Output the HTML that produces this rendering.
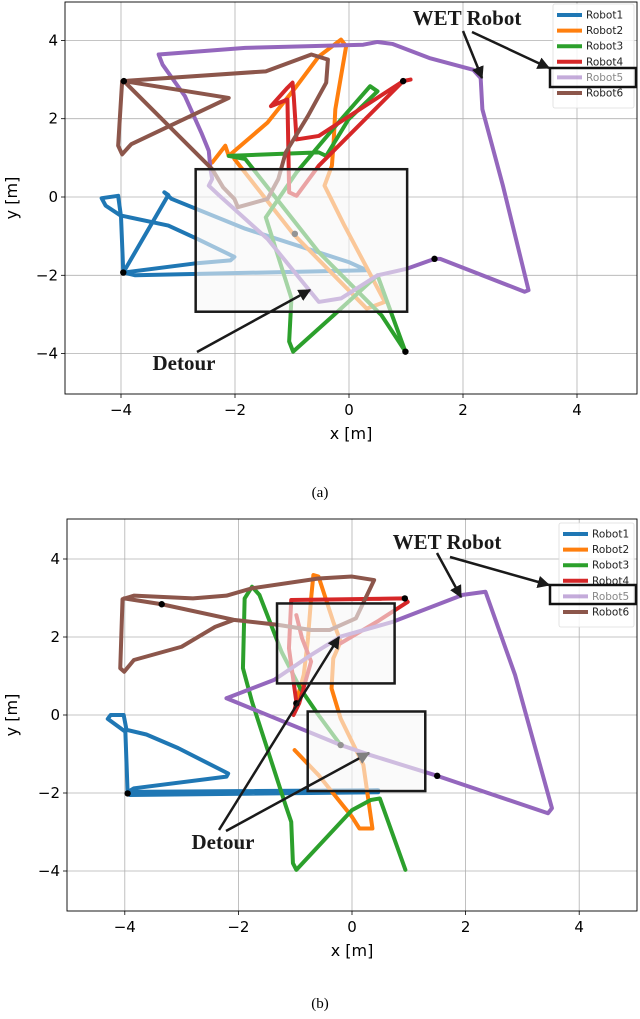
<!DOCTYPE html>
<html><head><meta charset="utf-8"><style>
body{margin:0;background:#fff;}
svg{display:block;font-family:"DejaVu Sans","Liberation Sans",sans-serif;}
</style></head><body>
<svg id="fig" width="640" height="1019" viewBox="0 0 640 1019" xmlns="http://www.w3.org/2000/svg">
<defs>
<marker id="ah" viewBox="0 0 10 10" refX="9" refY="5" markerWidth="5" markerHeight="5" orient="auto"><path d="M0,0L10,5L0,10z" fill="#1a1a1a"/></marker>
<marker id="ahg" viewBox="0 0 10 10" refX="9" refY="5" markerWidth="5" markerHeight="5" orient="auto"><path d="M0,0L10,5L0,10z" fill="#808080"/></marker>
</defs>
<g id="chartA"></g>
<g id="chartB"></g>
<text x="320" y="497" text-anchor="middle" font-family="Liberation Serif,serif" font-size="15">(a)</text>
<text x="320" y="1008" text-anchor="middle" font-family="Liberation Serif,serif" font-size="15">(b)</text>
</svg>
<script>
const ticks = [-4,-2,0,2,4];
const tickLabels = ['\u22124','\u22122','0','2','4'];
const robotNames = ['Robot1','Robot2','Robot3','Robot4','Robot5','Robot6'];
const colors = ['#1f77b4','#ff7f0e','#2ca02c','#d62728','#9467bd','#8c564b'];

// Chart (a) trajectories [x,y] in metres
const a_r1 = [[-3.96,-1.93],[-4.0,-0.5],[-4.05,0.03],[-4.34,-0.03],[-4.27,-0.22],[-4.01,-0.47],[-3.17,-0.73],[-2.66,-1.07],[-2.01,-1.53],[-2.08,-1.62],[-2.72,-1.70],[-3.95,-1.93],[-3.75,-2.0],[0.31,-1.87],[-0.01,-1.66],[-1.82,-0.81],[-3.11,-0.05],[-3.24,0.12],[-3.17,0.05],[-3.96,-1.93]];
const a_r2 = [[-2.4,0.88],[-2.17,1.31],[-2.11,1.05],[-1.43,1.9],[-0.92,2.83],[-0.53,3.59],[-0.14,4.02],[-0.05,3.85],[-0.24,2.24],[-0.27,1.39],[-0.3,0.8],[-0.43,0.29],[-0.34,0.03],[-0.08,-0.73],[0.63,-2.68],[0.31,-2.85],[-0.98,-0.94],[-2.01,0.97]];
const a_r3 = [[0.99,-3.95],[0.5,-2.0],[-0.27,-3.02],[-0.98,-3.95],[-1.05,-3.69],[-1.01,-2.59],[-1.46,-0.52],[-0.92,0.63],[-0.14,1.98],[0.37,2.83],[0.5,2.7],[-0.01,1.98],[-0.4,1.05],[-0.53,1.14],[-2.11,1.05],[-1.82,0.97],[-0.53,-1.41],[0.57,-3.02],[0.99,-3.95]];
const a_r4 = [[1.08,3.0],[0.95,2.96],[-0.53,0.8],[-0.92,0.03],[-1.05,0.12],[-1.08,2.49],[-1.37,2.32],[-1.08,2.79],[-0.99,2.92],[-0.97,2.58],[-0.92,1.47],[-0.53,1.56],[0.95,2.96]];
const a_r5 = [[1.5,-1.58],[1.6,-1.58],[3.08,-2.42],[3.15,-2.38],[2.7,0.29],[2.34,2.24],[2.31,3.04],[2.18,3.25],[1.41,3.55],[0.76,3.91],[0.5,3.96],[0.25,3.89],[-1.82,3.81],[-3.34,3.64],[-3.27,3.38],[-2.88,2.58],[-2.59,1.64],[-2.46,1.18],[-2.43,0.71],[-2.4,0.46],[-2.46,0.29],[-2.27,0.03],[-1.43,-1.07],[-0.53,-2.68],[-0.14,-2.59],[0.5,-2.0],[1.02,-1.83],[1.5,-1.58]];
const a_r6 = [[-3.95,2.96],[-2.11,2.53],[-3.82,1.35],[-3.98,1.09],[-4.05,1.31],[-3.98,2.96],[-1.46,3.21],[-0.66,3.64],[-0.37,3.51],[-0.4,2.92],[-0.72,2.07],[-1.11,1.14],[-1.24,0.46],[-1.43,-0.05],[-1.95,-0.26],[-2.01,-0.05],[-2.21,0.25],[-2.4,0.71],[-3.95,2.96]];
const a_starts = [[-3.96,-1.93],[0.99,-3.95],[0.95,2.96],[1.5,-1.58],[-3.95,2.96]];
const a_grayDots = [[-0.95,-0.94]];
const a_boxes = [[-2.69,0.71,1.02,-2.93]];

// Chart (b) trajectories
const b_r1 = [[-3.95,-2.01],[-3.99,-0.43],[-4.3,-0.1],[-4.25,0],[-4.02,0],[-3.97,-0.38],[-3.62,-0.5],[-3.06,-0.85],[-2.18,-1.5],[-2.21,-1.58],[-3.84,-1.88],[-3.94,-1.97],[0.46,-1.93],[-3.91,-2.05],[0.46,-1.98],[-3.9,-2.0]];
const b_r2 = [[-1.01,-0.9],[-0.59,-1.54],[0,-2.61],[0.13,-2.91],[0.36,-2.91],[0.2,-1.28],[-0.2,-0.09],[-0.36,0.68],[-0.33,1.45],[-0.2,1.88],[-0.33,2.39],[-0.59,3.55],[-0.68,3.59],[-0.72,2.99],[-0.78,1.88],[-0.85,1.03],[-0.98,0.34]];
const b_r3 = [[-0.2,-0.77],[-0.59,0],[-0.91,0.68],[-1.24,1.62],[-1.63,3.08],[-1.76,3.29],[-1.89,2.99],[-1.92,1.2],[-1.76,0.34],[-1.17,-2.31],[-1.07,-2.74],[-1.04,-3.8],[-0.98,-3.97],[0,-2.44],[0.33,-2.18],[0.49,-2.14],[0.94,-3.97]];
const b_r4 = [[-0.98,2.56],[-0.88,1.97],[-0.72,1.37],[-0.93,0.3],[-1.03,0],[-0.98,0.34],[-1.11,1.71],[-1.07,2.95],[0.93,2.99],[0.98,2.9],[0.45,2.4],[-0.2,1.84]];
const b_r5 = [[-2.21,0.43],[-1.37,0.9],[-0.72,1.54],[-0.2,2.01],[0.72,2.39],[1.95,3.08],[2.35,3.16],[2.87,1.03],[3.52,-2.39],[3.45,-2.52],[1.5,-1.56],[0.33,-1.03],[-0.2,-0.77],[-2.21,0.43]];
const b_r6 = [[-4.01,1.11],[-4.08,1.2],[-4.04,2.97],[-3.84,3.06],[-2.8,2.99],[-2.21,3.06],[-1.76,3.25],[-0.59,3.5],[0,3.55],[0.39,3.46],[0.07,2.48],[-0.39,2.18],[-0.72,2.18],[-1.3,2.31],[-2.08,2.44],[-3.35,2.84],[-4.01,2.99],[-3.35,2.84],[-2.08,2.44],[-2.41,2.26],[-3.0,1.75],[-3.84,1.41],[-4.01,1.11]];
const b_starts = [[-3.95,-2.01],[0.93,2.99],[1.5,-1.56],[-3.35,2.84]];
const b_grayDots = [[-0.2,-0.77],[-0.98,0.3]];
const b_boxes = [[-1.32,2.86,0.75,0.81],[-0.78,0.09,1.29,-1.95]];

const NS='http://www.w3.org/2000/svg';
function mk(parent,tag,attrs){const e=document.createElementNS(NS,tag);for(const k in attrs)e.setAttribute(k,attrs[k]);parent.appendChild(e);return e;}

function drawChart(g, cfg, series, starts, grayDots, boxes){
  const sx = x => cfg.x0 + x*cfg.kx;
  const sy = y => cfg.y0 - y*cfg.ky;
  const L=cfg.left,R=cfg.right,T=cfg.top,B=cfg.bottom;
  const bg=mk(g,'rect',{x:L,y:T,width:R-L,height:B-T,fill:'#fff'});
  
  
  ticks.forEach((t,i)=>{
    const gx=mk(g,'line',{x1:sx(t),x2:sx(t),y1:T,y2:B,stroke:'#b0b0b0','stroke-width':0.8});
    
    
    const gy=mk(g,'line',{x1:L,x2:R,y1:sy(t),y2:sy(t),stroke:'#b0b0b0','stroke-width':0.8});
    
    
    mk(g,'line',{x1:sx(t),x2:sx(t),y1:B,y2:B+4,stroke:'#000','stroke-width':0.8});
    mk(g,'line',{x1:L-4,x2:L,y1:sy(t),y2:sy(t),stroke:'#000','stroke-width':0.8});
    const xl=mk(g,'text',{x:sx(t),y:B+21,'text-anchor':'middle','font-size':15});
    xl.textContent=tickLabels[i];
    
    
    const yl=mk(g,'text',{x:L-7,y:sy(t)+5,'text-anchor':'end','font-size':15});
    yl.textContent=tickLabels[i];
    
    
  });
  series.forEach((pts,i)=>{
    const p=mk(g,'polyline',{points:pts.map(q=>sx(q[0])+','+sy(q[1])).join(' '),fill:'none',stroke:colors[i],'stroke-width':4,'stroke-linejoin':'round','stroke-linecap':'round'});
    
    
  });
  grayDots.forEach(d=>{
    const c=mk(g,'circle',{cx:sx(d[0]),cy:sy(d[1]),r:3.2,fill:'#000'});
    
    
  });
  boxes.forEach(b=>{
    const r=mk(g,'rect',{x:sx(b[0]),y:sy(b[1]),width:sx(b[2])-sx(b[0]),height:sy(b[3])-sy(b[1]),fill:'rgba(247,247,247,0.6)',stroke:'#1a1a1a','stroke-width':2.5});
    
    
  });
  starts.forEach(d=>{
    const c=mk(g,'circle',{cx:sx(d[0]),cy:sy(d[1]),r:3.2,fill:'#000'});
    
    
  });
  const fr=mk(g,'rect',{x:L,y:T,width:R-L,height:B-T,fill:'none',stroke:'#000','stroke-width':0.9});
  
  
  const xt=mk(g,'text',{x:(L+R)/2,y:B+45,'text-anchor':'middle','font-size':16});
  xt.textContent='x [m]';
  
  
  const yt=mk(g,'text',{x:17,y:(T+B)/2,'text-anchor':'middle','font-size':16,transform:'rotate(-90 17 '+(T+B)/2+')'});
  yt.textContent='y [m]';
  
  
  const lg=mk(g,'g',{});
  
  
  mk(lg,'rect',{x:cfg.legX,y:cfg.legY,width:R-3-cfg.legX,height:104,fill:'rgba(255,255,255,0.85)',stroke:'#ddd','stroke-width':0.8,rx:2});
  robotNames.forEach((n,i)=>{
    const yy=cfg.legY+11+i*15.6;
    const e=mk(lg,'g',{});
    
    
    mk(e,'line',{x1:cfg.legX+4,x2:cfg.legX+29,y1:yy,y2:yy,stroke:colors[i],'stroke-width':4,opacity:i===4?0.55:1});
    const t=mk(e,'text',{x:cfg.legX+33,y:yy+3.5,'font-size':10.5,fill:i===4?'#888':'#222'});
    t.textContent=n;
  });
  const hb=mk(g,'rect',{x:cfg.hx,y:cfg.hy,width:R-cfg.hx-1,height:19,fill:'none',stroke:'#111','stroke-width':2.5});
  
  
  const wt=mk(g,'text',{x:cfg.wx,y:cfg.wy,'text-anchor':'middle','font-size':21,'font-weight':'bold','font-family':'Liberation Serif,serif',fill:'#1a1a1a'});
  wt.textContent='WET Robot';
  
  
  cfg.warrows.forEach(a=>{
    const l=mk(g,'line',{x1:a[0],y1:a[1],x2:a[2],y2:a[3],stroke:'#1a1a1a','stroke-width':2.5,'marker-end':'url(#ah)'});
    
    
  });
  const dt=mk(g,'text',{x:cfg.dx,y:cfg.dy,'text-anchor':'middle','font-size':21,'font-weight':'bold','font-family':'Liberation Serif,serif',fill:'#1a1a1a'});
  dt.textContent='Detour';
  
  
  cfg.darrows.forEach(a=>{
    const l=mk(g,'line',{x1:a[0],y1:a[1],x2:a[2],y2:a[3],stroke:'#1a1a1a','stroke-width':2.5,'marker-end':a[4]?'url(#ahg)':'url(#ah)'});
    
    
  });
}

drawChart(document.getElementById('chartA'),
 {x0:349,kx:57,y0:197,ky:39.15,left:65,right:637,top:2,bottom:394,legX:553,legY:4,hx:550,hy:68,
  wx:467,wy:25,warrows:[[463,31,482,78],[472,32,549,68]],dx:184,dy:370,darrows:[[197,352,310,290]]},
 [a_r1,a_r2,a_r3,a_r4,a_r5,a_r6],a_starts,a_grayDots,a_boxes);

drawChart(document.getElementById('chartB'),
 {x0:352,kx:56.8,y0:715,ky:39,left:67,right:637,top:519,bottom:911,legX:559,legY:523,hx:550,hy:585,
  wx:447,wy:549,warrows:[[437,553,461,597],[450,557,549,585]],dx:223,dy:849,darrows:[[219,830,339,637],[226,831,369,753,1]]},
 [b_r1,b_r2,b_r3,b_r4,b_r5,b_r6],b_starts,b_grayDots,b_boxes);
</script>
</body></html>
